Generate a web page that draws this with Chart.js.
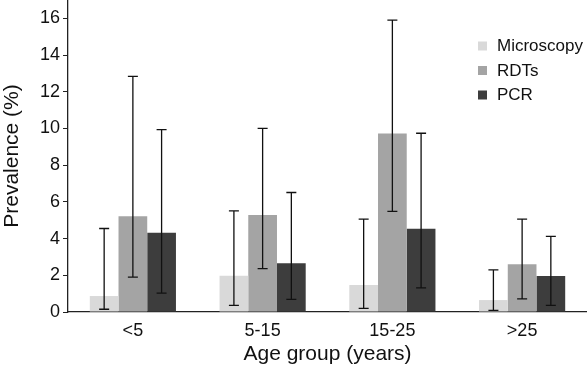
<!DOCTYPE html>
<html>
<head>
<meta charset="utf-8">
<script src="https://cdn.jsdelivr.net/npm/chart.js@4/dist/chart.umd.min.js"></script>
<style>
  html, body { margin: 0; padding: 0; background: #fff; }
  canvas { display: block; }
</style>
</head>
<body>
<canvas id="plot" width="587" height="377"></canvas>
<script>
// age groups on the x axis
const ageGroups = ["<5", "5-15", "15-25", ">25"];

// prevalence (%) per method
const microscopy = [0.87, 1.98, 1.47, 0.65];
const rdts = [5.22, 5.28, 9.72, 2.6];
const pcr = [4.32, 2.65, 4.53, 1.96];

// 95% CI bounds
const microscopyLow = [0.15, 0.36, 0.2, 0.09];
const microscopyHigh = [4.55, 5.51, 5.06, 2.3];
const rdtsLow = [1.9, 2.36, 5.48, 0.71];
const rdtsHigh = [12.84, 10.0, 15.9, 5.06];
const pcrLow = [1.03, 0.69, 1.31, 0.36];
const pcrHigh = [9.94, 6.51, 9.74, 4.12];

// y axis tick values
const yTicks = [0, 2, 4, 6, 8, 10, 12, 14, 16];

const seriesColors = ["#d9d9d9", "#a4a4a4", "#3d3d3d"];
const font = "'Liberation Sans', Arial, sans-serif";

const errorBars = {
  id: "errorBars",
  afterDatasetsDraw(chart) {
    const ctx = chart.ctx;
    const y = chart.scales.y;
    ctx.save();
    ctx.strokeStyle = "#111";
    ctx.lineWidth = 1.3;
    chart.data.datasets.forEach((ds, i) => {
      chart.getDatasetMeta(i).data.forEach((bar, j) => {
        const x = bar.x;
        const top = y.getPixelForValue(ds.high[j]);
        const bot = y.getPixelForValue(ds.low[j]);
        ctx.beginPath();
        ctx.moveTo(x, top); ctx.lineTo(x, bot);
        ctx.moveTo(x - 5, top); ctx.lineTo(x + 5, top);
        ctx.moveTo(x - 5, bot); ctx.lineTo(x + 5, bot);
        ctx.stroke();
      });
    });
    ctx.restore();
  }
};

const sideLegend = {
  id: "sideLegend",
  afterDraw(chart) {
    const ctx = chart.ctx;
    ctx.save();
    ctx.font = "17px " + font;
    ctx.textBaseline = "middle";
    chart.data.datasets.forEach((ds, i) => {
      const cy = 46.5 + i * 24.5;
      ctx.fillStyle = ds.backgroundColor;
      ctx.fillRect(478, cy - 5, 9, 9);
      ctx.fillStyle = "#111";
      ctx.fillText(ds.label, 497, cy);
    });
    ctx.restore();
  }
};

new Chart(document.getElementById("plot"), {
  type: "bar",
  data: {
    labels: ageGroups,
    datasets: [
      { label: "Microscopy", data: microscopy, low: microscopyLow, high: microscopyHigh, backgroundColor: seriesColors[0] },
      { label: "RDTs", data: rdts, low: rdtsLow, high: rdtsHigh, backgroundColor: seriesColors[1] },
      { label: "PCR", data: pcr, low: pcrLow, high: pcrHigh, backgroundColor: seriesColors[2] }
    ]
  },
  options: {
    responsive: false,
    animation: false,
    layout: { padding: 0 },
    datasets: { bar: { categoryPercentage: 0.664, barPercentage: 1.0, borderWidth: 0 } },
    plugins: {
      legend: { display: false },
      tooltip: { enabled: false }
    },
    scales: {
      x: {
        grid: { display: false, drawTicks: false },
        border: { color: "#222", width: 1.3 },
        ticks: { color: "#111", padding: 8, font: { family: font, size: 18 } },
        title: {
          display: true, text: "Age group (years)", color: "#111",
          padding: { top: 0, bottom: 10 },
          font: { family: font, size: 21 }
        },
        afterFit(scale) { scale.height = 65; scale.paddingLeft = 0; scale.paddingRight = 0; }
      },
      y: {
        min: 0, max: 17,
        grid: { drawOnChartArea: false, tickLength: 5, color: "#222" },
        border: { color: "#222", width: 1.3 },
        ticks: { color: "#111", padding: 3, font: { family: font, size: 18 } },
        afterBuildTicks(scale) { scale.ticks = yTicks.map(v => ({ value: v })); },
        title: {
          display: true, text: "Prevalence (%)", color: "#111",
          padding: { top: 0, bottom: 0 },
          font: { family: font, size: 21 }
        },
        afterFit(scale) { scale.width = 68; scale.paddingTop = 0; scale.paddingBottom = 0; }
      }
    }
  },
  plugins: [errorBars, sideLegend]
});
</script>
</body>
</html>
